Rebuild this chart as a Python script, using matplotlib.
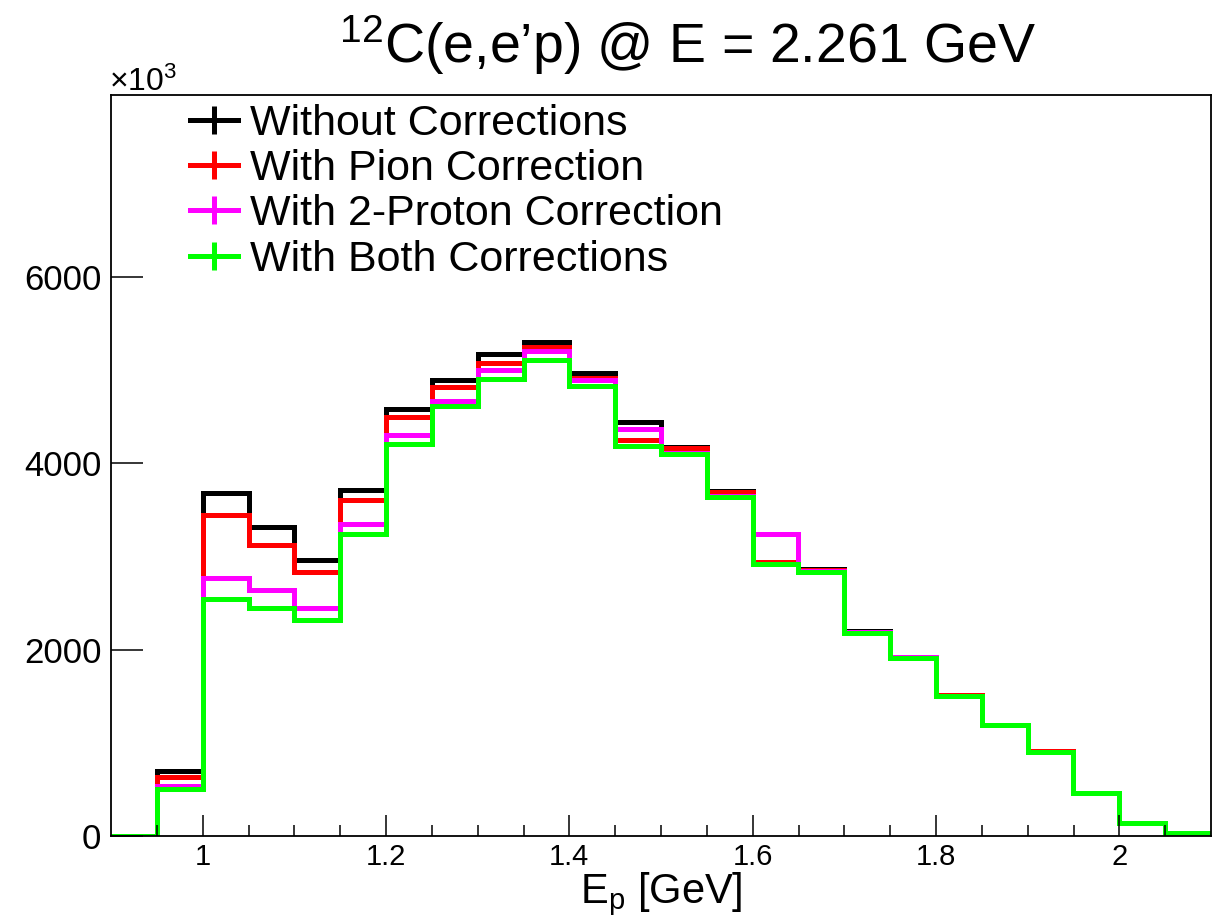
import numpy as np
import matplotlib
matplotlib.use('Agg')
import matplotlib.pyplot as plt
from matplotlib.lines import Line2D

plt.rcParams['font.family'] = 'Liberation Sans'
plt.rcParams['mathtext.fontset'] = 'custom'
plt.rcParams['mathtext.rm'] = 'Liberation Sans'
plt.rcParams['mathtext.it'] = 'Liberation Sans:italic'

# bin edges for E_p [GeV]
edges = np.round(np.arange(0.90, 2.1001, 0.05), 2)

# counts per bin
without_corr = [0, 700, 3680, 3310, 2960, 3715, 4585, 4895, 5170, 5300, 4965, 4440,
                4170, 3700, 3245, 2860, 2195, 1925, 1510, 1195, 910, 460, 138, 32]
pion_corr = [0, 630, 3445, 3120, 2835, 3600, 4490, 4815, 5070, 5250, 4910, 4250,
             4165, 3695, 2935, 2855, 2190, 1922, 1508, 1193, 908, 459, 137, 31]
twoproton_corr = [0, 540, 2770, 2640, 2445, 3350, 4300, 4670, 5000, 5200, 4890, 4370,
                  4110, 3650, 3235, 2840, 2185, 1916, 1505, 1191, 905, 458, 136, 30]
both_corr = [0, 500, 2545, 2445, 2320, 3245, 4205, 4610, 4905, 5110, 4830, 4185,
             4100, 3640, 2920, 2830, 2182, 1914, 1503, 1191, 905, 458, 136, 30]

labels = ['Without Corrections', 'With Pion Correction',
          'With 2-Proton Correction', 'With Both Corrections']
colors = ['black', '#ff0000', '#ff00ff', '#00ff00']
series = [without_corr, pion_corr, twoproton_corr, both_corr]

fig = plt.figure(figsize=(12.23, 9.17), dpi=100)
ax = fig.add_axes([111/1223, 81/917, 1100/1223, 741/917])

for vals, c in zip(series, colors):
    ax.stairs(vals, edges, color=c, lw=3.6)

ax.set_xlim(0.9, 2.1)
ax.set_ylim(0, 7950)

ax.set_xticks([1.0, 1.2, 1.4, 1.6, 1.8, 2.0])
ax.set_xticklabels(['1', '1.2', '1.4', '1.6', '1.8', '2'])
ax.set_xticks(np.arange(0.95, 2.1, 0.05), minor=True)
ax.set_yticks([0, 2000, 4000, 6000])
ax.set_yticklabels(['0', '2000', '4000', '6000'])

ax.tick_params(axis='x', which='major', direction='in', length=15, width=1.1,
               labelsize=21, pad=5)
ax.tick_params(axis='x', which='minor', direction='in', length=8, width=1.1)
ax.tick_params(axis='y', which='major', direction='in', length=23, width=1.1,
               labelsize=25, pad=7)
for sp in ax.spines.values():
    sp.set_linewidth(1.3)

handles = [Line2D([], [], color=c, lw=3.6, marker='|', markersize=19.5,
                  markeredgewidth=3.6) for c in colors]
ax.legend(handles, labels, loc='upper left', bbox_to_anchor=(0.0718, 0.988),
          frameon=False, fontsize=31, handlelength=1.12, handletextpad=0.28,
          labelspacing=0.123, borderaxespad=0, borderpad=0)

fig.text(688/1223, 1 - 45/917, '$^{12}$C(e,e’p) @ E = 2.261 GeV',
         ha='center', va='center', fontsize=40)
fig.text(109/1223, 1 - 91/917, '×10$^{3}$', ha='left', va='baseline',
         fontsize=23)
fig.text(661/1223, 1 - 903/917, r'E$_{\mathrm{p}}$ [GeV]', ha='center',
         va='baseline', fontsize=30)

plt.savefig('out.png', dpi=100)
